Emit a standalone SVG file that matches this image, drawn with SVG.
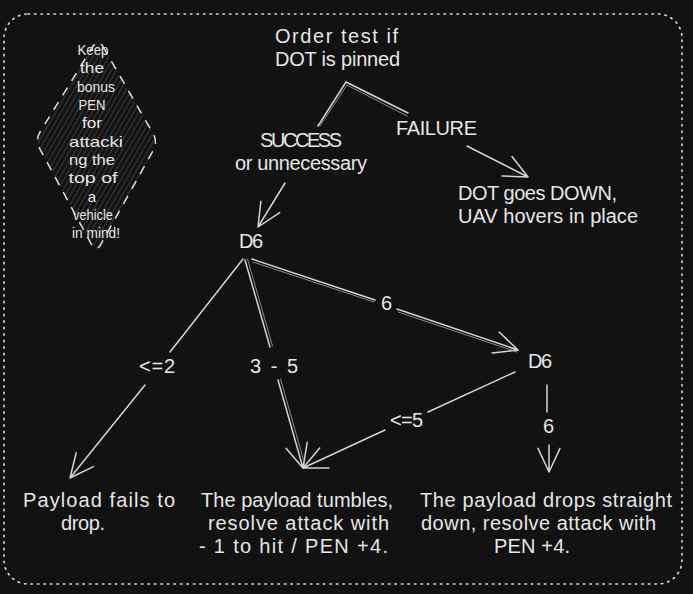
<svg xmlns="http://www.w3.org/2000/svg" width="693" height="594" viewBox="0 0 693 594">
  <defs>
    <pattern id="hatch" patternUnits="userSpaceOnUse" width="4.5" height="4.5" patternTransform="rotate(30)">
      <line x1="1" y1="0" x2="1" y2="4.5" stroke="#3c3c3c" stroke-width="1.1"/>
    </pattern>
    <style>
      text { font-family: "Liberation Sans", Arial, sans-serif; fill: #e6e6e6; font-size: 20px; }
      .c { text-anchor: middle; }
      .small { font-size: 15px; }
      .ln { fill: none; stroke: #d4d4d4; stroke-width: 1.5; stroke-linecap: round; stroke-linejoin: round; }
      .ln2 { fill: none; stroke: #a8a8a8; stroke-width: 1; stroke-linecap: round; stroke-linejoin: round; opacity: 0.8; }
    </style>
  </defs>
  <rect x="0" y="0" width="693" height="594" fill="#121212"/>

  <g id="frame">
    <rect x="4" y="14" width="678" height="570" rx="24" ry="24" fill="none" stroke="#dcdcdc" stroke-width="1.6" stroke-dasharray="1.5 5" stroke-linecap="round"/>
  </g>

  <g id="note">
    <path d="M103,46.7 L153,133.3 Q158,142 153.1,150.7 L100.9,244.3 Q96,253 91.3,244.2 L39.8,148.8 Q35,140 40.3,131.5 L92.8,46.5 Q98,38 103,46.7 Z" fill="url(#hatch)" stroke="#e0e0e0" stroke-width="1.5" stroke-dasharray="9 8"/>
    <text class="c small" x="93" y="55" textLength="31" lengthAdjust="spacingAndGlyphs">Keep</text>
    <text class="c small" x="92" y="73" textLength="24" lengthAdjust="spacingAndGlyphs">the</text>
    <text class="c small" x="96" y="92" textLength="38" lengthAdjust="spacingAndGlyphs">bonus</text>
    <text class="c small" x="92" y="110" textLength="27" lengthAdjust="spacingAndGlyphs">PEN</text>
    <text class="c small" x="92" y="128" textLength="20" lengthAdjust="spacingAndGlyphs">for</text>
    <text class="c small" x="96" y="147" textLength="54" lengthAdjust="spacingAndGlyphs">attacki</text>
    <text class="c small" x="92" y="165" textLength="46" lengthAdjust="spacingAndGlyphs">ng the</text>
    <text class="c small" x="93" y="183" textLength="49" lengthAdjust="spacingAndGlyphs">top of</text>
    <text class="c small" x="92" y="202">a</text>
    <text class="c small" x="93" y="220" textLength="40" lengthAdjust="spacingAndGlyphs">vehicle</text>
    <text class="c small" x="96" y="238" textLength="48" lengthAdjust="spacingAndGlyphs">in mind!</text>
  </g>

  <g id="order-test">
    <text x="275" y="43" textLength="123">Order test if</text>
    <text x="275" y="66" textLength="125">DOT is pinned</text>
  </g>
  <g id="success">
    <text class="c" x="301" y="147" textLength="82">SUCCESS</text>
    <text class="c" x="301" y="170" textLength="132">or unnecessary</text>
  </g>
  <g id="failure">
    <text x="396" y="135" textLength="81">FAILURE</text>
  </g>
  <g id="dot-down">
    <text x="458" y="200" textLength="159">DOT goes DOWN,</text>
    <text x="458" y="223" textLength="180">UAV hovers in place</text>
  </g>
  <g id="d6-first">
    <text x="239" y="248" textLength="24">D6</text>
  </g>
  <g id="d6-second">
    <text x="528" y="368" textLength="24">D6</text>
  </g>
  <g id="fails">
    <text x="23" y="507" textLength="152">Payload fails to</text>
    <text x="61" y="530" textLength="44">drop.</text>
  </g>
  <g id="tumbles">
    <text x="201" y="507" textLength="192">The payload tumbles,</text>
    <text x="208" y="530" textLength="181">resolve attack with</text>
    <text x="199" y="553" textLength="189">- 1 to hit / PEN +4.</text>
  </g>
  <g id="straight">
    <text x="420" y="507" textLength="252">The payload drops straight</text>
    <text x="421" y="530" textLength="235">down, resolve attack with</text>
    <text x="494" y="553" textLength="76">PEN +4.</text>
  </g>

  <g id="connectors">
    <path class="ln" d="M318,126 L346,82 L408,113"/>
    <path class="ln2" d="M320,126 L347,85 L407,116"/>

    <path class="ln" d="M285,183 L258,227 M279.7,212.6 L258,227 L260.9,201.2"/>
    <path class="ln" d="M467,146 L528,177 M512,156.5 L528,177 L502,176"/>

    <path class="ln" d="M243,259 L170,352"/>
    <path class="ln" d="M145,385 L70,478 M93.3,466.6 L70,478 L76.2,452.8"/>

    <path class="ln" d="M245,260 L270,347"/>
    <path class="ln2" d="M247.5,259 L272.5,346"/>
    <path class="ln" d="M278,380 L303,468 M307.2,442.3 L303,468 L286,448.3"/>
    <path class="ln2" d="M280.5,379 L305,465"/>

    <path class="ln" d="M252,259 L375,300"/>
    <path class="ln2" d="M253,262 L374,302"/>
    <path class="ln" d="M397,309 L518,350 M499.2,332 L518,350 L492.2,352.9"/>
    <path class="ln2" d="M398,312 L517,352"/>
    <text x="381" y="310" textLength="9">6</text>

    <path class="ln" d="M515,372 L428,412"/>
    <path class="ln" d="M385,430 L303,468 M329,468 L303,468 L319.7,448.1"/>
    <text x="390" y="427" textLength="33">&lt;=5</text>

    <path class="ln" d="M547,385 L547,412"/>
    <path class="ln" d="M549,445 L549,472 M560,448.4 L549,472 L538,448.4"/>
    <text x="543" y="433" textLength="10">6</text>

    <text x="139" y="373" textLength="36">&lt;=2</text>
    <text x="250" y="373" textLength="48">3 - 5</text>
  </g>
</svg>
